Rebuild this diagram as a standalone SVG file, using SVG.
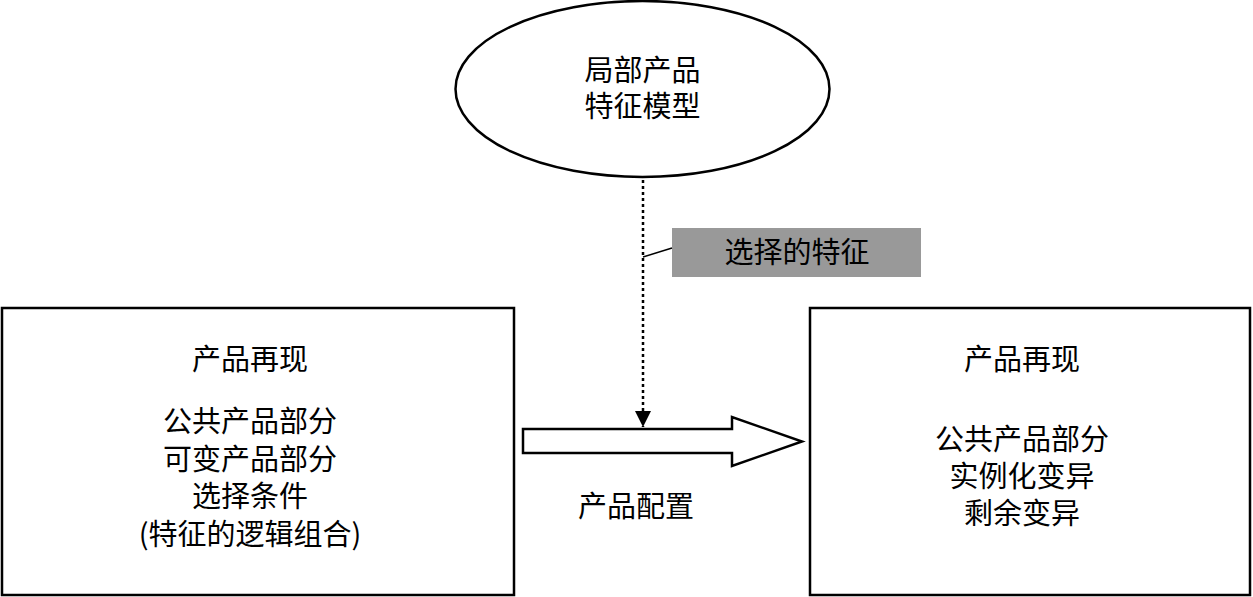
<svg xmlns="http://www.w3.org/2000/svg" width="1253" height="597" viewBox="0 0 1253 597">
<style>
.t{font-family:"Noto Sans CJK SC","Noto Sans CJK JP",sans-serif;font-size:29px;fill:#000;text-anchor:middle}
.s{fill:#fff;stroke:#000;stroke-width:2.5}
</style>
<defs>
<marker id="ah" viewBox="0 0 10 10" refX="10" refY="5" markerWidth="16" markerHeight="20" markerUnits="userSpaceOnUse" orient="auto">
<path d="M0,0 L10,5 L0,10 Z" fill="#000"/>
</marker>
</defs>
<rect width="1253" height="597" fill="#fff"/>
<g id="ellipse-node">
<ellipse class="s" cx="642.5" cy="89" rx="187" ry="88"/>
<text class="t" x="642.5" y="81">局部产品</text>
<text class="t" x="642.5" y="117">特征模型</text>
</g>
<g id="left-box">
<rect class="s" x="2" y="308" width="512" height="287"/>
<text class="t" x="250" y="370">产品再现</text>
<text class="t" x="250" y="432">公共产品部分</text>
<text class="t" x="250" y="470">可变产品部分</text>
<text class="t" x="250" y="507">选择条件</text>
<text class="t" x="250" y="545">(特征的逻辑组合)</text>
</g>
<g id="right-box">
<rect class="s" x="810" y="308" width="440" height="287"/>
<text class="t" x="1022" y="370">产品再现</text>
<text class="t" x="1022" y="450">公共产品部分</text>
<text class="t" x="1022" y="487">实例化变异</text>
<text class="t" x="1022" y="524">剩余变异</text>
</g>
<g id="label-node">
<rect x="672" y="228" width="249" height="49" fill="#999"/>
<text class="t" x="797" y="263">选择的特征</text>
</g>
<g id="connectors">
<line x1="643" y1="180" x2="643" y2="427" stroke="#000" stroke-width="2.5" stroke-dasharray="3,3" marker-end="url(#ah)"/>
<line x1="672" y1="248" x2="643" y2="257" stroke="#000" stroke-width="1.5"/>
<path d="M523,429 H732 V417 L802,441.5 L732,466 V453 H523 Z" fill="#fff" stroke="#000" stroke-width="2.5"/>
<text class="t" x="636" y="517">产品配置</text>
</g>
</svg>
